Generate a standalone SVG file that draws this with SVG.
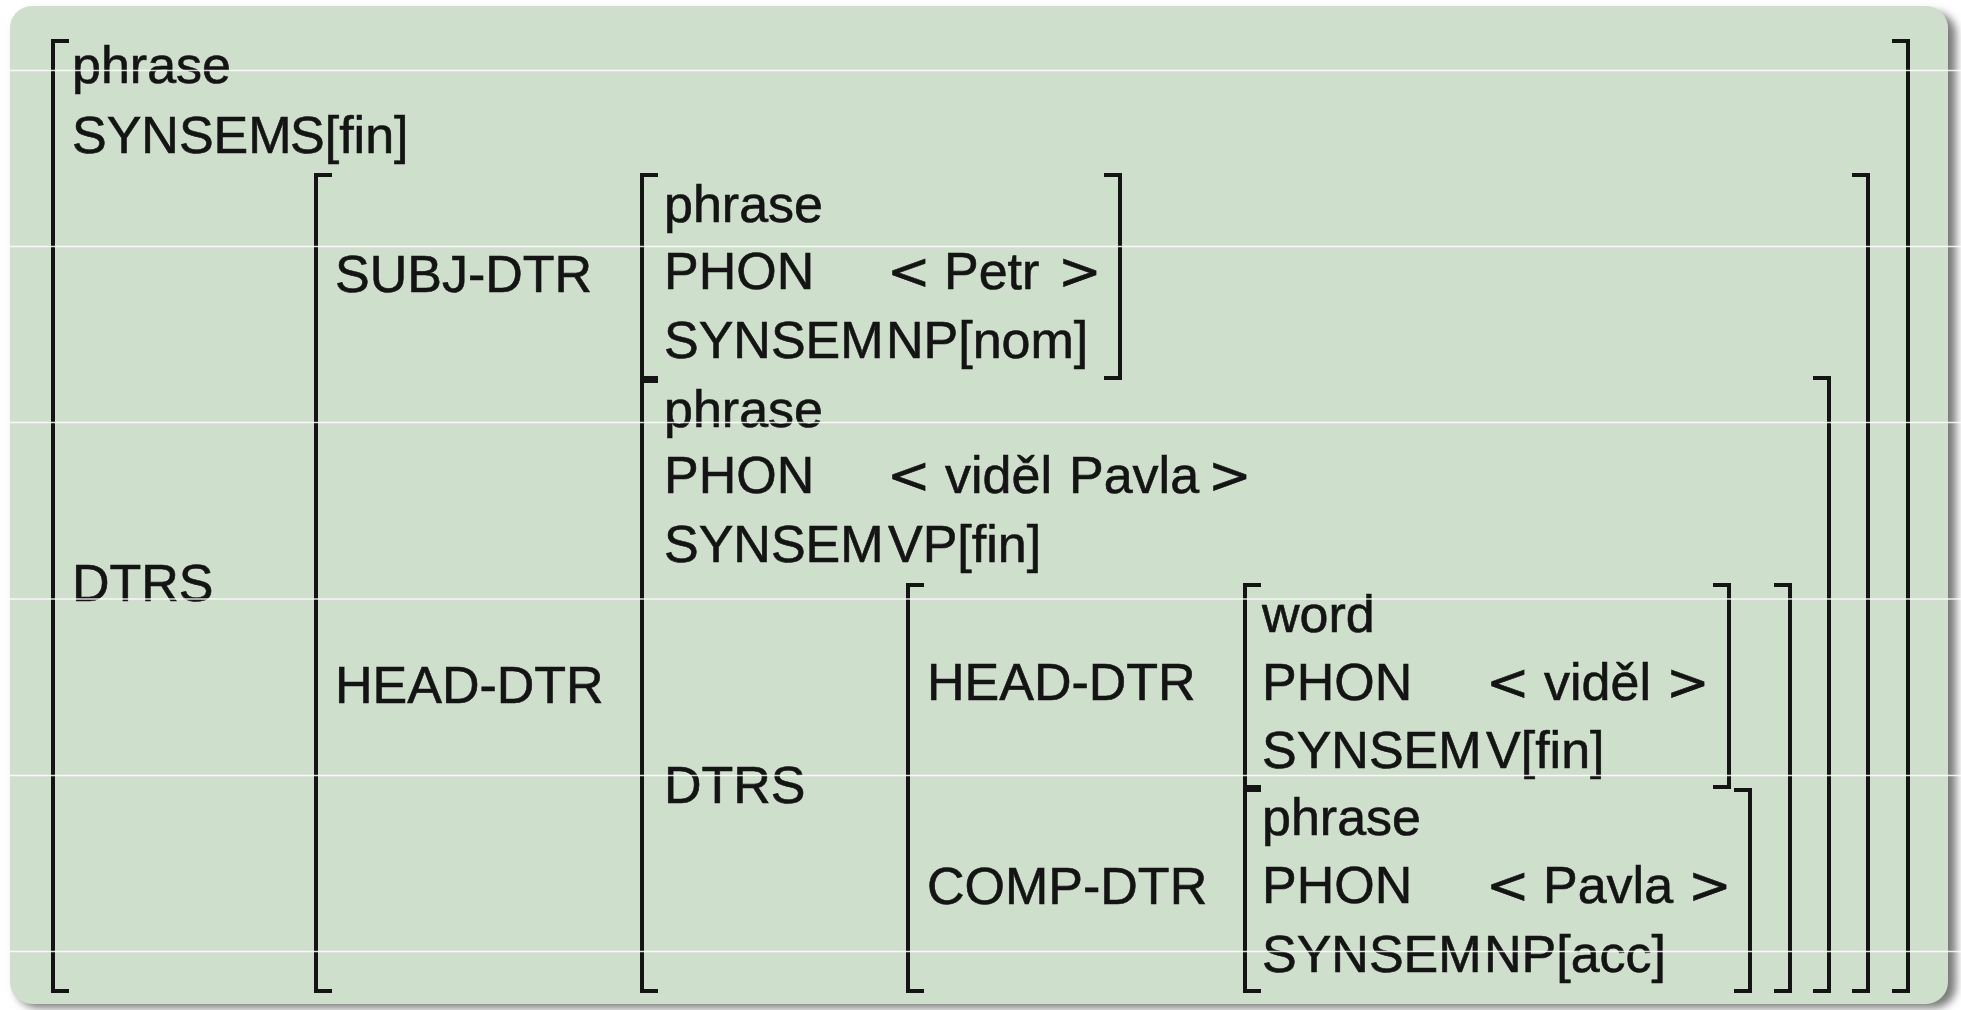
<svg xmlns="http://www.w3.org/2000/svg" width="1961" height="1010" viewBox="0 0 1961 1010">
<defs>
<style>
.t{font-family:"Liberation Sans",Arial,sans-serif;font-size:52px;fill:#141414;stroke:#141414;stroke-width:0.6}
.m{font-family:"DejaVu Sans",sans-serif}
.br{fill:none;stroke:#141414;stroke-width:4;stroke-linejoin:miter;stroke-linecap:butt}
.scan{stroke:#ffffff;stroke-width:1.3;opacity:0.85}
</style>
<filter id="sh" x="-5%" y="-5%" width="110%" height="110%">
<feGaussianBlur stdDeviation="4"/>
</filter>
</defs>
<rect x="0" y="0" width="1961" height="1010" fill="#ffffff"/>
<rect x="16" y="12" width="1940" height="996" rx="22" fill="#7a7a7a" filter="url(#sh)"/>
<rect x="10" y="6" width="1938" height="998" rx="22" fill="#cedfcc"/>

<g id="avm-root">
<path class="br" d="M69,41 H53 V991 H69"/>
<path class="br" d="M1892,41 H1908 V991 H1892"/>
<text class="t" x="72" y="83">phrase</text>
<text class="t" x="72" y="153">SYNSEM<tspan x="290">S[fin]</tspan></text>
<text class="t" x="72" y="601">DTRS</text>
</g>

<g id="avm-dtrs">
<path class="br" d="M332,175 H316 V991 H332"/>
<path class="br" d="M1852,175 H1868 V991 H1852"/>
<text class="t" x="335" y="292">SUBJ-DTR</text>
<text class="t" x="335" y="703">HEAD-DTR</text>
</g>

<g id="avm-subj">
<path class="br" d="M658,175 H642 V378 H658"/>
<path class="br" d="M1104,175 H1120 V378 H1104"/>
<text class="t" x="664" y="222">phrase</text>
<text class="t" x="664" y="289">PHON<tspan class="m" x="887">&lt;</tspan><tspan x="944">Petr</tspan><tspan class="m" x="1058">&gt;</tspan></text>
<text class="t" x="664" y="358">SYNSEM<tspan x="886">NP[nom]</tspan></text>
</g>

<g id="avm-head">
<path class="br" d="M658,381 H642 V991 H658"/>
<path class="br" d="M1813,378 H1829 V991 H1813"/>
<text class="t" x="664" y="427">phrase</text>
<text class="t" x="664" y="493">PHON<tspan class="m" x="887">&lt;</tspan><tspan x="945">viděl</tspan><tspan x="1069">Pavla</tspan><tspan class="m" x="1208">&gt;</tspan></text>
<text class="t" x="664" y="562">SYNSEM<tspan x="888">VP[fin]</tspan></text>
<text class="t" x="664" y="803">DTRS</text>
</g>

<g id="avm-head-dtrs">
<path class="br" d="M924,585 H908 V991 H924"/>
<path class="br" d="M1774,585 H1790 V991 H1774"/>
<text class="t" x="927" y="700">HEAD-DTR</text>
<text class="t" x="927" y="904">COMP-DTR</text>
</g>

<g id="avm-word">
<path class="br" d="M1261,585 H1245 V787 H1261"/>
<path class="br" d="M1713,585 H1729 V787 H1713"/>
<text class="t" x="1262" y="632">word</text>
<text class="t" x="1262" y="700">PHON<tspan class="m" x="1486">&lt;</tspan><tspan x="1544">viděl</tspan><tspan class="m" x="1666">&gt;</tspan></text>
<text class="t" x="1262" y="768">SYNSEM<tspan x="1486">V[fin]</tspan></text>
</g>

<g id="avm-comp">
<path class="br" d="M1261,790 H1245 V991 H1261"/>
<path class="br" d="M1734,790 H1750 V991 H1734"/>
<text class="t" x="1262" y="835">phrase</text>
<text class="t" x="1262" y="903">PHON<tspan class="m" x="1486">&lt;</tspan><tspan x="1543">Pavla</tspan><tspan class="m" x="1688">&gt;</tspan></text>
<text class="t" x="1262" y="972">SYNSEM<tspan x="1484">NP[acc]</tspan></text>
</g>

<g id="connectors"></g>

<g id="scanlines">
<line class="scan" x1="8" y1="70.5" x2="1961" y2="70.5"/>
<line class="scan" x1="8" y1="246.5" x2="1961" y2="246.5"/>
<line class="scan" x1="8" y1="422.5" x2="1961" y2="422.5"/>
<line class="scan" x1="8" y1="599" x2="1961" y2="599"/>
<line class="scan" x1="8" y1="775.5" x2="1961" y2="775.5"/>
<line class="scan" x1="8" y1="951.5" x2="1961" y2="951.5"/>
</g>
</svg>
